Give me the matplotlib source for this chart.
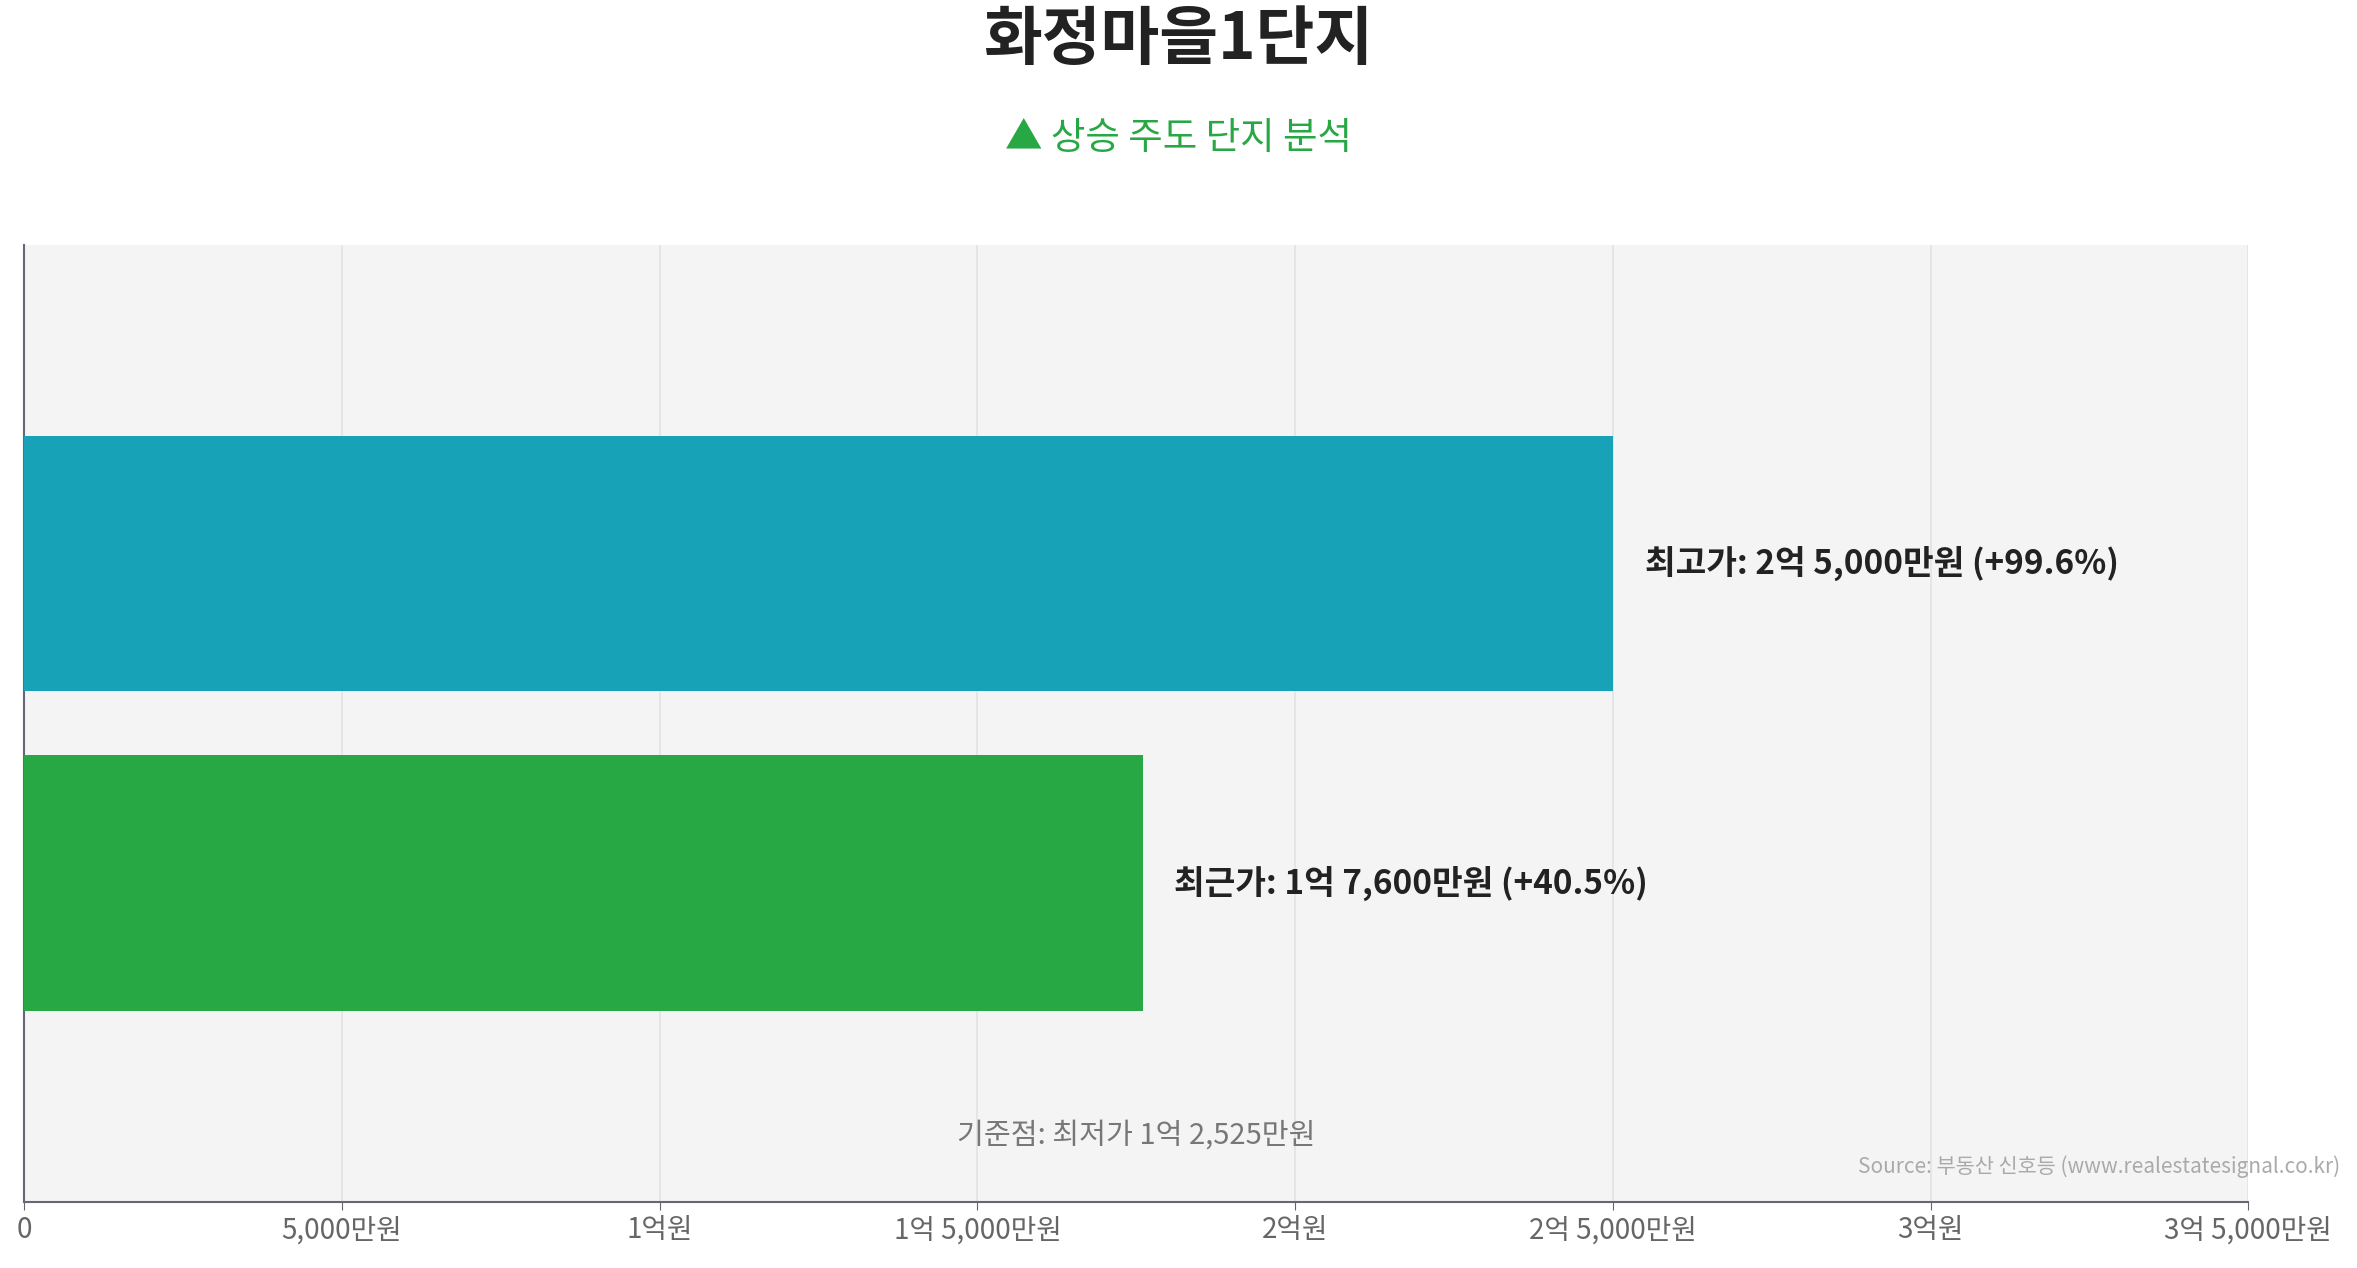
import matplotlib
matplotlib.use("Agg")
import matplotlib.pyplot as plt

plt.rcParams['font.family'] = ['Noto Sans CJK KR', 'DejaVu Sans']

title = "화정마을1단지"
subtitle = "▲ 상승 주도 단지 분석"
labels = ["최근가: 1억 7,600만원 (+40.5%)", "최고가: 2억 5,000만원 (+99.6%)"]
values = [17600, 25000]  # 만원
colors = ["#28a745", "#17a2b8"]
ticks = [0, 5000, 10000, 15000, 20000, 25000, 30000, 35000]
tick_labels = ["0", "5,000만원", "1억원", "1억 5,000만원", "2억원", "2억 5,000만원", "3억원", "3억 5,000만원"]
base_note = "기준점: 최저가 1억 2,525만원"
source = "Source: 부동산 신호등 (www.realestatesignal.co.kr)"

fig = plt.figure(figsize=(23.57, 12.68), dpi=100)
ax = fig.add_axes([0.0103, 0.052, 0.9436, 0.755])
ax.set_facecolor("#f4f4f4")

ypos = [0, 1]
ax.barh(ypos, values, height=0.8, color=colors, zorder=3)
for y, v, lab in zip(ypos, values, labels):
    ax.text(v + 500, y, lab, va="center", ha="left", fontsize=24,
            fontweight="bold", color="#222222", zorder=4)

ax.set_xlim(0, 35000)
ax.set_ylim(-1, 2)
ax.set_yticks([])
ax.set_xticks(ticks)
ax.set_xticklabels(tick_labels, fontsize=20, color="#666666")
ax.tick_params(axis="x", length=6, color="#666666")
ax.grid(axis="x", color="#e2e2e2", linewidth=1.2, zorder=0)
for s in ["top", "right"]:
    ax.spines[s].set_visible(False)
for s in ["left", "bottom"]:
    ax.spines[s].set_color("#666677")
    ax.spines[s].set_linewidth(1.5)

ax.text(0.5, 0.069, base_note, transform=ax.transAxes, ha="center", va="center",
        fontsize=21, color="#777777")
fig.text(0.993, 0.080, source, ha="right", va="center", fontsize=15, color="#aaaaaa")

fig.text(0.5, 0.968, title, ha="center", va="center", fontsize=46,
         fontweight="bold", color="#222222")
fig.text(0.5, 0.891, subtitle, ha="center", va="center", fontsize=27, color="#28a745")

fig.savefig("out.png", dpi=100)
